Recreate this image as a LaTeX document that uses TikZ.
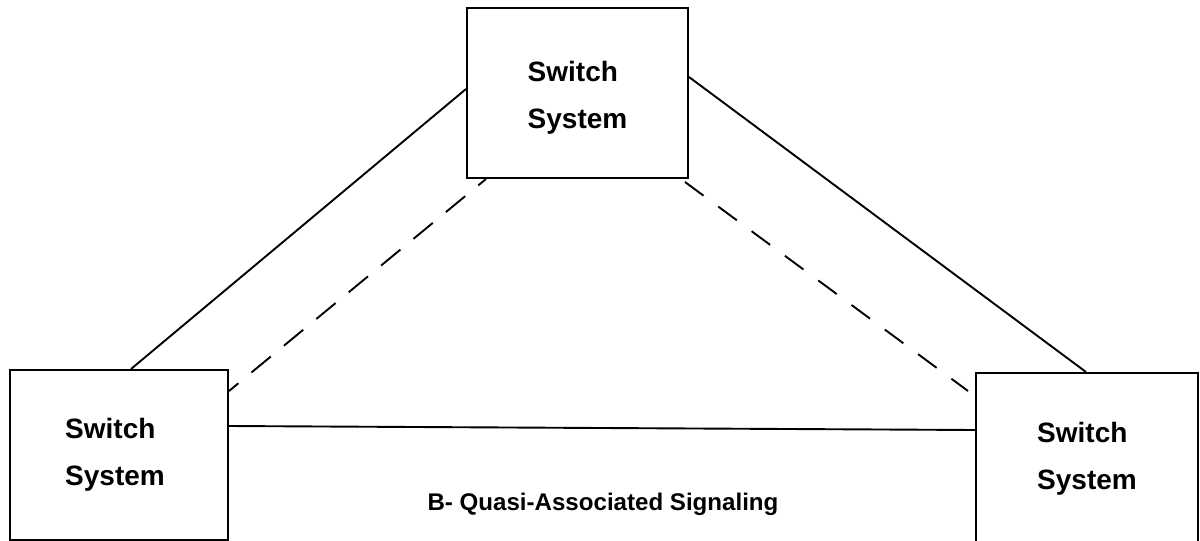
\documentclass[tikz,border=0pt]{standalone}
\usepackage{fontspec}
\setmainfont{Liberation Sans}
\usetikzlibrary{calc}
\begin{document}
\begin{tikzpicture}[x=1pt,y=-1pt,
  swbox/.style={draw,line width=2pt,rectangle,inner sep=0pt,align=left,
    font=\fontsize{28}{47}\selectfont\bfseries},
  link/.style={line width=1.9pt},
  dlink/.style={line width=1.9pt,dash pattern=on 25pt off 17pt,dash phase=15pt}]
\useasboundingbox (0,0) rectangle (1200,541);
\node[swbox,minimum width=221pt,minimum height=170pt,text depth=0pt] (top) at (577.5,93) {\raisebox{-3pt}{Switch}\\\raisebox{-3pt}{System}};
\node[swbox,minimum width=218pt,minimum height=170pt] (left) at (119,455) {\hspace*{-8pt}Switch\\\hspace*{-8pt}System};
\node[swbox,minimum width=222pt,minimum height=172pt] (right) at (1087,459) {Switch\\System};
\draw[link] ($(top.north west)+(0,82)$) -- ($(left.north west)+(122,0)$);
\draw[link] ($(top.north east)+(0,70)$) -- ($(right.north west)+(111,0)$);
\draw[dlink] ($(top.south west)+(20,0)$) -- ($(left.north east)+(0,22)$);
\draw[link,dash pattern=on 23pt off 18.4pt] ($(top.south east)+(-4,3)$) -- ($(right.north west)+(-7,19)$);
\draw[link] ($(left.north east)+(0,57)$) -- ($(right.north west)+(0,58)$);
\node[anchor=base,font=\fontsize{24.1}{30}\selectfont\bfseries] (cap) at (603,510) {B- Quasi-Associated Signaling};
\end{tikzpicture}
\end{document}
